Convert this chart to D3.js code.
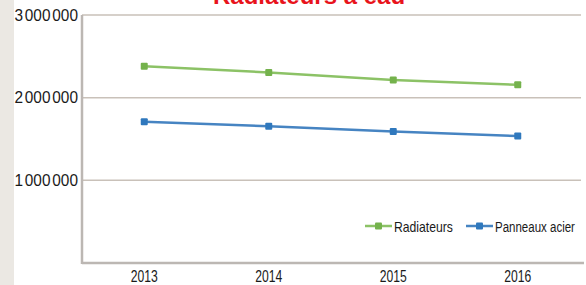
<!DOCTYPE html>
<html>
<head>
<meta charset="utf-8">
<script src="https://cdn.jsdelivr.net/npm/d3@7"></script>
<style>
  body { margin: 0; background: #fff; }
  svg text { font-family: "Liberation Sans", Arial, sans-serif; fill: #1a1a1a; }
</style>
</head>
<body>
<div id="chart"></div>
<script>
// data
var years = ["2013", "2014", "2015", "2016"];
var radiateurs = [2380000, 2305000, 2215000, 2155000];
var panneaux = [1710000, 1655000, 1590000, 1535000];
var seriesNames = ["Radiateurs", "Panneaux acier"];
var seriesColors = ["#8cc266", "#4684c2"];
var markerColors = ["#74b24c", "#2f78bd"];
var yTicks = [1000000, 2000000, 3000000];

var W = 586, H = 285;
var margin = {top: 15, right: 5, bottom: 22, left: 82};

var svg = d3.select("#chart").append("svg")
    .attr("width", W)
    .attr("height", H);

// beige strip on the left
svg.append("rect")
    .attr("x", 0).attr("y", 0)
    .attr("width", 14).attr("height", H)
    .attr("fill", "#ebe8e3");

var x = d3.scalePoint().domain(years).range([margin.left, 580]).padding(0.5);
var y = d3.scaleLinear().domain([0, 3000000]).range([H - margin.bottom, margin.top]);

// the original uses a condensed face: squeeze each text to the width
function fitWidth(sel, w) {
  sel.each(function() {
    var t = d3.select(this);
    var len = this.getComputedTextLength();
    var tx = +t.attr("x"), ty = +t.attr("y");
    t.attr("x", 0).attr("y", 0)
     .attr("transform", "translate(" + tx + "," + ty + ") scale(" + (w / len) + ",1)");
  });
}

// gridlines
svg.append("g")
    .selectAll("line")
    .data(yTicks)
    .enter().append("line")
    .attr("x1", margin.left).attr("x2", 581)
    .attr("y1", function(d) { return y(d); })
    .attr("y2", function(d) { return y(d); })
    .attr("stroke", "#c9c1b9")
    .attr("stroke-width", 1.5);

// y tick labels, "3 000 000" style with small gaps
var yl = svg.append("g")
    .selectAll("text")
    .data(yTicks)
    .enter().append("text")
    .attr("x", 78)
    .attr("y", function(d) { return y(d) + 5.5; })
    .attr("text-anchor", "end")
    .style("font-size", "17px");
yl.each(function(d) {
  var s = String(d), t = d3.select(this);
  t.append("tspan").text(s.slice(0, s.length - 6));
  t.append("tspan").attr("dx", 2).text(s.slice(-6, -3));
  t.append("tspan").attr("dx", 2).text(s.slice(-3));
});
yl.call(fitWidth, 60);

// axes frame
svg.append("line")
    .attr("x1", margin.left).attr("x2", margin.left)
    .attr("y1", margin.top).attr("y2", y(0) + 1)
    .attr("stroke", "#bcb7b3").attr("stroke-width", 2.5);
svg.append("line")
    .attr("x1", margin.left).attr("x2", 584)
    .attr("y1", y(0)).attr("y2", y(0))
    .attr("stroke", "#bcb7b3").attr("stroke-width", 2.5);

// x labels
svg.append("g")
    .selectAll("text")
    .data(years)
    .enter().append("text")
    .attr("x", function(d) { return x(d); })
    .attr("y", 281.5)
    .attr("text-anchor", "middle")
    .style("font-size", "16px")
    .text(function(d) { return d; })
    .call(fitWidth, 27);

// lines
var line = d3.line()
    .x(function(d, i) { return x(years[i]); })
    .y(function(d) { return y(d); });

[radiateurs, panneaux].forEach(function(vals, k) {
  svg.append("path")
      .datum(vals)
      .attr("fill", "none")
      .attr("stroke", seriesColors[k])
      .attr("stroke-width", 2.5)
      .attr("d", line);
  svg.append("g")
      .selectAll("rect")
      .data(vals)
      .enter().append("rect")
      .attr("x", function(d, i) { return x(years[i]) - 3.5; })
      .attr("y", function(d) { return y(d) - 3.5; })
      .attr("width", 7).attr("height", 7)
      .attr("rx", 1)
      .attr("fill", markerColors[k]);
});

// legend
var legendX = [365, 466];
var legendTextW = [59, 80];
var legend = svg.append("g");
seriesNames.forEach(function(name, k) {
  var g = legend.append("g").attr("transform", "translate(" + legendX[k] + ",226)");
  g.append("line")
      .attr("x1", 0).attr("x2", 27)
      .attr("y1", 0).attr("y2", 0)
      .attr("stroke", seriesColors[k]).attr("stroke-width", 2.5);
  g.append("rect")
      .attr("x", 10).attr("y", -3.5)
      .attr("width", 7).attr("height", 7)
      .attr("rx", 1)
      .attr("fill", markerColors[k]);
  g.append("text")
      .attr("x", 29).attr("y", 5.5)
      .style("font-size", "15px")
      .text(name)
      .call(fitWidth, legendTextW[k]);
});

// title, cut at the top
svg.append("text")
    .attr("x", 309)
    .attr("y", 3.5)
    .attr("text-anchor", "middle")
    .style("font-weight", "bold")
    .style("font-size", "24px")
    .style("fill", "#e8141c")
    .text("Radiateurs à eau");
</script>
</body>
</html>
